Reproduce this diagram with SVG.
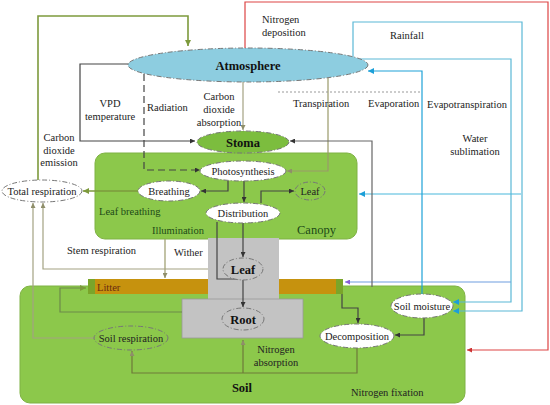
<svg xmlns="http://www.w3.org/2000/svg" width="550" height="405" viewBox="0 0 550 405">
<style>
text{font-family:"Liberation Serif","Times New Roman",serif;font-size:10.5px;fill:#222}
.b{font-weight:bold;font-size:12.5px;fill:#111}
.g{fill:#1d4a17}
.c{text-anchor:middle}
.ln{fill:none;stroke-width:1.2}
.dk{stroke:#444}
.ol{stroke:#7d9a3c;stroke-width:1.6}
.lo{stroke:#a3a282}
.tn{stroke:#9a9a6a}
.bl{stroke:#5bb8d6}
.node{stroke:#777;stroke-width:1;stroke-dasharray:5,2,1,2}
</style>
<defs>
<marker id="ad" viewBox="0 0 6 6" refX="6" refY="3" markerWidth="5" markerHeight="5" orient="auto" markerUnits="userSpaceOnUse"><path d="M0,0L6,3L0,6z" fill="#333"/></marker>
<marker id="ao" viewBox="0 0 6 6" refX="6" refY="3" markerWidth="6" markerHeight="6" orient="auto" markerUnits="userSpaceOnUse"><path d="M0,0L6,3L0,6z" fill="#7d9a3c"/></marker>
<marker id="al" viewBox="0 0 6 6" refX="6" refY="3" markerWidth="5" markerHeight="5" orient="auto" markerUnits="userSpaceOnUse"><path d="M0,0L6,3L0,6z" fill="#8f8e6a"/></marker>
<marker id="ab" viewBox="0 0 6 6" refX="6" refY="3" markerWidth="6" markerHeight="6" orient="auto" markerUnits="userSpaceOnUse"><path d="M0,0L6,3L0,6z" fill="#1c9fd8"/></marker>
<marker id="ap" viewBox="0 0 6 6" refX="6" refY="3" markerWidth="5" markerHeight="5" orient="auto" markerUnits="userSpaceOnUse"><path d="M0,0L6,3L0,6z" fill="#8a5cd8"/></marker>
<marker id="ar" viewBox="0 0 6 6" refX="6" refY="3" markerWidth="5" markerHeight="5" orient="auto" markerUnits="userSpaceOnUse"><path d="M0,0L6,3L0,6z" fill="#c33"/></marker>
</defs>
<rect width="550" height="405" fill="#fff"/>

<g id="soil">
<rect x="20" y="286" width="445" height="117" rx="10" fill="#8cc84b" stroke="#7fb244"/>
<text class="b c" x="242" y="392">Soil</text>
<text x="351" y="396">Nitrogen fixation</text>
</g>
<g id="canopy">
<rect x="95" y="153" width="262" height="86" rx="10" fill="#8cc84b" stroke="#7fb244"/>
<text class="g" x="99" y="215">Leaf breathing</text>
<text class="g" x="152" y="234">Illumination</text>
<text class="g" x="297" y="234" style="font-size:12.5px">Canopy</text>
</g>
<g id="litter">
<rect x="88" y="279" width="255" height="15" fill="#c6920e"/>
<rect x="88" y="279" width="7" height="15" fill="#7aa52a"/>
<rect x="336" y="279" width="7" height="15" fill="#7aa52a"/>
<text x="97" y="291" style="fill:#6a2a10">Litter</text>
</g>
<g id="trunk">
<rect x="208" y="238" width="71" height="61" fill="#c3c3c3"/>
<rect x="182" y="299" width="121" height="39" fill="#c3c3c3" stroke="#999" stroke-width="0.8"/>
</g>

<g id="connectors">
<path class="ln ol" d="M38,180V16H188V46" marker-end="url(#ao)"/>
<path class="ln dk" d="M130,64H80V141H195" marker-end="url(#ad)"/>
<path class="ln dk" d="M144,74V170H200" stroke-dasharray="7,4" marker-end="url(#ad)"/>
<path class="ln lo" d="M243,82V130" marker-end="url(#al)"/>
<path class="ln tn" d="M328,78V171H287" marker-end="url(#al)"/>
<path class="ln" stroke="#d44" d="M245,48V2H548V350H467" marker-end="url(#ar)"/>
<path class="ln bl" d="M353,57V22H522V311H453" marker-end="url(#ab)"/>
<path class="ln bl" d="M353,59H511V302H453" marker-end="url(#ab)"/>
<path class="ln" stroke="#48b8dc" d="M521,194H359" marker-end="url(#ab)"/>
<path class="ln" stroke="#6f9ee0" d="M511,282H345" marker-end="url(#ap)"/>
<path class="ln" stroke="#1ea2d8" stroke-width="2" d="M422,294V71H368" marker-end="url(#ab)"/>
<path class="ln" stroke="#666" d="M372,287V141H290" marker-end="url(#ad)"/>
<line x1="278" y1="92" x2="422" y2="92" stroke="#999" stroke-dasharray="2,2"/>
<path class="ln dk" d="M228,181V191H201" marker-end="url(#ad)"/>
<path class="ln dk" d="M244,181V202" marker-end="url(#ad)"/>
<path class="ln dk" d="M261,203V191H294" marker-end="url(#ad)"/>
<path class="ln ol" stroke-width="1.2" d="M138,191H83" marker-end="url(#ao)"/>
<path class="ln dk" d="M243,223V257" marker-end="url(#ad)"/>
<path class="ln dk" d="M217,222V279H243"/>
<path class="ln dk" d="M243,280V307" marker-end="url(#ad)"/>
<path class="ln tn" d="M165,239V278" marker-end="url(#al)"/>
<path class="ln lo" d="M208,269H43V203" marker-end="url(#al)"/>
<path class="ln lo" d="M95,338H33V203" marker-end="url(#al)"/>
<path class="ln" stroke="#6d8a4a" d="M182,312H60V288H86" marker-end="url(#ao)"/>
<path class="ln" stroke="#6e7a3a" d="M357,348V373H132V351" marker-end="url(#al)"/>
<path class="ln" stroke="#6e7a3a" d="M243,373V340" marker-end="url(#al)"/>
<path class="ln dk" d="M342,294V308H358V323" marker-end="url(#ad)"/>
<path class="ln dk" d="M424,318V335H395" marker-end="url(#ad)"/>
</g>

<g id="labels">
<text x="262" y="23">Nitrogen</text>
<text x="262" y="36">deposition</text>
<text x="390" y="39">Rainfall</text>
<text x="293" y="107">Transpiration</text>
<text x="368" y="107">Evaporation</text>
<text x="427" y="108">Evapotranspiration</text>
<text class="c" x="475" y="142">Water</text>
<text class="c" x="475" y="155">sublimation</text>
<text class="c" x="110" y="107">VPD</text>
<text class="c" x="110" y="120">temperature</text>
<text x="147" y="111">Radiation</text>
<text class="c" x="219" y="100">Carbon</text>
<text class="c" x="219" y="113">dioxide</text>
<text class="c" x="219" y="126">absorption</text>
<text class="c" x="59" y="141">Carbon</text>
<text class="c" x="59" y="154">dioxide</text>
<text class="c" x="59" y="166">emission</text>
<text x="67" y="254">Stem respiration</text>
<text x="174" y="256">Wither</text>
<text class="c" x="276" y="353">Nitrogen</text>
<text class="c" x="276" y="366">absorption</text>
</g>

<g id="atmosphere"><ellipse cx="248" cy="65" rx="120" ry="17" fill="#8dcde0" class="node"/><text class="b c" x="248" y="70">Atmosphere</text></g>
<g id="stoma"><ellipse cx="243" cy="142" rx="46" ry="11" fill="#7cbd3e" class="node"/><text class="b c" x="243" y="147">Stoma</text></g>
<g id="photosynthesis"><ellipse cx="243" cy="171" rx="43" ry="10" fill="#fff" class="node"/><text class="c" x="243" y="175">Photosynthesis</text></g>
<g id="breathing"><ellipse cx="169" cy="191" rx="31" ry="10" fill="#fff" class="node"/><text class="c" x="169" y="195">Breathing</text></g>
<g id="leaf-canopy"><ellipse cx="310" cy="191" rx="15" ry="9" fill="#8cc84b" class="node"/><text class="c" x="310" y="195">Leaf</text></g>
<g id="distribution"><ellipse cx="243" cy="213" rx="37" ry="10" fill="#fff" class="node"/><text class="c" x="243" y="217">Distribution</text></g>
<g id="total-respiration"><ellipse cx="42" cy="191" rx="40" ry="11" fill="#fff" class="node"/><text class="c" x="42" y="195">Total respiration</text></g>
<g id="leaf"><ellipse cx="243" cy="269" rx="20" ry="11" fill="#c3c3c3" class="node"/><text class="b c" x="243" y="274">Leaf</text></g>
<g id="root"><ellipse cx="243" cy="319" rx="21" ry="11" fill="#c3c3c3" class="node"/><text class="b c" x="243" y="324">Root</text></g>
<g id="soil-respiration"><ellipse cx="131" cy="338" rx="37" ry="12" fill="#8cc84b" class="node"/><text class="c" x="131" y="342">Soil respiration</text></g>
<g id="decomposition"><ellipse cx="357" cy="336" rx="37" ry="12" fill="#fff" class="node"/><text class="c" x="357" y="340">Decomposition</text></g>
<g id="soil-moisture"><ellipse cx="422" cy="306" rx="31" ry="12" fill="#fff" class="node"/><text class="c" x="422" y="310">Soil moisture</text></g>
</svg>
